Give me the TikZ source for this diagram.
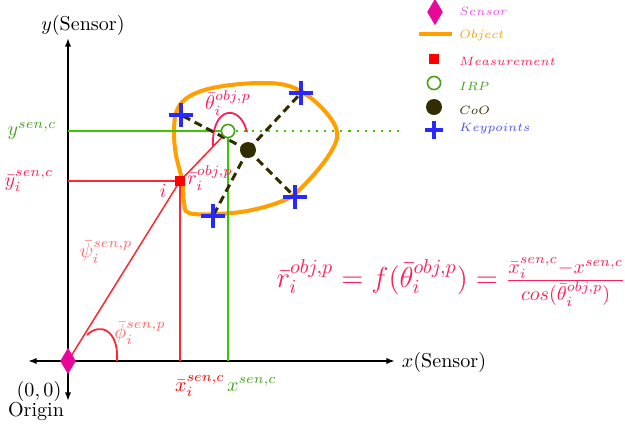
\documentclass[tikz,border=0pt]{standalone}
\usetikzlibrary{arrows.meta,shapes.geometric}
\definecolor{senpink}{RGB}{232,8,150}
\definecolor{sentext}{RGB}{238,80,238}
\definecolor{objorange}{RGB}{255,160,0}
\definecolor{measred}{RGB}{255,0,0}
\definecolor{measline}{RGB}{255,40,50}
\definecolor{measpink}{RGB}{255,30,90}
\definecolor{salmon}{RGB}{255,105,105}
\definecolor{irpgreen}{RGB}{60,200,0}
\definecolor{irptext}{RGB}{70,160,30}
\definecolor{cooolive}{RGB}{50,45,0}
\definecolor{kpblue}{RGB}{40,40,255}
\definecolor{kptext}{RGB}{80,80,240}
\begin{document}
\begin{tikzpicture}[
    x=0.0175cm, y=-0.0175cm,
    axis/.style={{Latex[length=1.5mm,width=1.1mm]}-{Latex[length=1.5mm,width=1.1mm]}, line width=1pt},
    sensor/.style={diamond, fill=senpink, draw=senpink!70!magenta, inner sep=0, minimum width=0.26cm, minimum height=0.44cm},
    measbox/.style={rectangle, fill=measred, inner sep=0, minimum size=0.19cm},
    irpdot/.style={circle, draw=irptext, fill=white, thick, inner sep=0, minimum size=0.23cm},
    coodot/.style={circle, fill=cooolive, inner sep=0, minimum size=0.28cm},
    kp/.style={circle, inner sep=0, minimum size=0.4cm},
    kpline/.style={kpblue, line width=2pt},
    redline/.style={measline, line width=0.75pt},
    greenline/.style={irpgreen, line width=0.75pt},
    dashline/.style={cooolive, line width=1.5pt, dash pattern=on 4pt off 2.5pt},
    legtext/.style={anchor=west, font=\fontsize{6}{7}\selectfont, inner sep=0}
]
\useasboundingbox (0,0) rectangle (625,430);
\coordinate (org) at (68,361);
\coordinate (meas) at (180,181);
\coordinate (irp) at (228,131);
\coordinate (coo) at (248,150);
\coordinate (ymeas) at (68,181);
\coordinate (xmeas) at (180,361);
\coordinate (yirp) at (68,131);
\coordinate (xirp) at (228,361);
\coordinate (dotend) at (400,131);
\coordinate (xl) at (28,361);
\coordinate (xr) at (395,361);
\coordinate (yt) at (68,38);
\coordinate (yb) at (68,401);

\draw[objorange, line width=2pt] plot[smooth cycle, tension=0.6] coordinates {
    (177,110) (190,96) (217,87) (260,83) (292,87) (320,106) (337,132) (327,158)
    (297,192) (277,203) (247,211) (217,214) (189,213) (184,202) (182,180) (176,155) (174,132)};

\draw[axis] (xl) -- (xr);
\draw[axis] (yb) -- (yt);
\draw[greenline] (yirp) -- (irp);
\draw[greenline] (irp) -- (xirp);
\draw[irpgreen, line width=1pt, dash pattern=on 1pt off 3pt] (irp) -- (dotend);
\draw[redline] (ymeas) -- (meas);
\draw[redline] (meas) -- (xmeas);
\draw[redline] (org) -- (meas);
\draw[redline] (meas) -- (irp);
\draw[measline, line width=0.9pt] (87,335) .. controls (100,322) and (119,330) .. (117,361);
\draw[measpink, line width=0.9pt] (213,147) .. controls (211,106) and (240,103) .. (247,132);

\node[kp] (kp1) at (181,115) {};
\node[kp] (kp2) at (301,93) {};
\node[kp] (kp3) at (295,197) {};
\node[kp] (kp4) at (213,216) {};
\foreach \k in {kp1,kp2,kp3,kp4}
    \draw[dashline] (coo) -- (\k.center);
\foreach \k in {kp1,kp2,kp3,kp4}
    \draw[kpline] (\k.north) -- (\k.south) (\k.west) -- (\k.east);

\node[sensor] (sen) at (org) {};
\node[measbox] (msq) at (meas) {};
\node[irpdot] (irpc) at (irp) {};
\node[coodot] (cooc) at (coo) {};

\node (ylab) at (83,25) {$y$(Sensor)};
\node (xlab) at (444,362) {$x$(Sensor)};
\node (zero) at (39,391) {$(0,0)$};
\node (orig) at (36,411) {Origin};
\node[text=salmon] (phi) at (140,333) {$\bar{\phi}_i^{sen,p}$};
\node[text=salmon] (psi) at (106,252) {$\bar{\psi}_i^{sen,p}$};
\node[text=measpink] (ilab) at (163,191) {$i$};
\node[text=measpink] (rlab) at (210,178) {$\bar{r}_i^{obj,p}$};
\node[text=measpink] (thlab) at (228,103) {$\bar{\theta}_i^{obj,p}$};
\node[text=measpink] (ybar) at (29,181) {$\bar{y}_i^{sen,c}$};
\node[text=irptext] (ysc) at (32,131) {$y^{sen,c}$};
\node[text=measred, anchor=base west] (xbar) at (168,391) {$\bar{x}_i^{sen,c}$};
\node[text=irptext, anchor=base west] (xsc) at (220,391) {$x^{sen,c}$};
\node[text=measpink, font=\Large] (form) at (451,282)
    {$\bar{r}_i^{obj,p}=f(\bar{\theta}_i^{obj,p})=\frac{\bar{x}_i^{sen,c}-x^{sen,c}}{cos(\bar{\theta}_i^{obj,p})}$};

\node[sensor] (lsen) at (435,12) {};
\draw[objorange, line width=2pt] (419,34) -- (452,34);
\node[measbox] (lmeas) at (434,59) {};
\node[irpdot] (lirp) at (434,83) {};
\node[coodot] (lcoo) at (434,107) {};
\node[kp, minimum size=0.3cm] (lkp) at (434,130) {};
\draw[kpline] (lkp.north) -- (lkp.south) (lkp.west) -- (lkp.east);
\node[legtext, text=sentext] (tsen) at (459,11) {$Sensor$};
\node[legtext, text=objorange] (tobj) at (459,35) {$Object$};
\node[legtext, text=measpink] (tmeas) at (459,61) {$Measurement$};
\node[legtext, text=irptext] (tirp) at (459,86) {$IRP$};
\node[legtext, text=cooolive] (tcoo) at (459,110) {$CoO$};
\node[legtext, text=kptext] (tkp) at (459,129) {$Keypoints$};
\end{tikzpicture}
\end{document}
